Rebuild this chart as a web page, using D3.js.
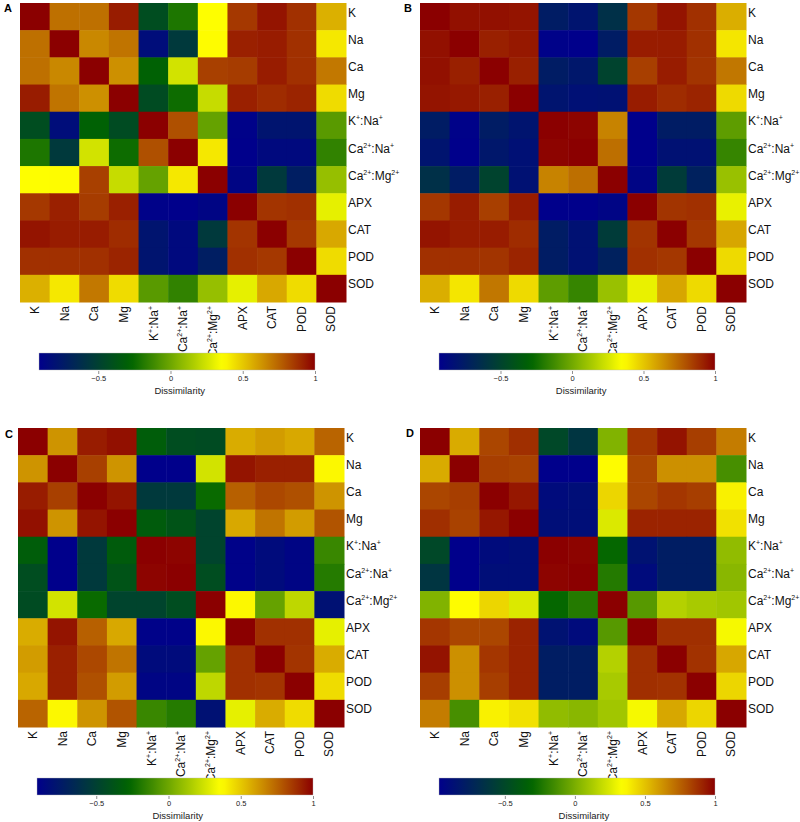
<!DOCTYPE html>
<html>
<head>
<meta charset="utf-8">
<script src="https://cdn.jsdelivr.net/npm/d3@7"></script>
<style>
  html, body { margin: 0; padding: 0; background: #fff; }
  svg { display: block; font-family: "Liberation Sans", Arial, Helvetica, sans-serif; }
</style>
</head>
<body>
<svg id="chart" width="800" height="822"></svg>
<script>
// ---------- data ----------
const categories = ["K", "Na", "Ca", "Mg", "K{+}:Na{+}", "Ca{2+}:Na{+}", "Ca{2+}:Mg{2+}", "APX", "CAT", "POD", "SOD"];
const panelLetters = ["A", "B", "C", "D"];
const colorbarTicks = [-0.5, 0, 0.5, 1];
const colorbarTitle = "Dissimilarity";
const paletteColors = ["#00008B", "#006400", "#FFFF00", "#8B0000"];

const matrixA = [
  [1.00, 0.72, 0.72, 0.93, -0.42, -0.20, 0.36, 0.86, 0.95, 0.88, 0.56],
  [0.72, 1.00, 0.66, 0.71, -0.83, -0.55, 0.37, 0.92, 0.93, 0.88, 0.42],
  [0.72, 0.66, 1.00, 0.64, -0.29, 0.25, 0.84, 0.85, 0.93, 0.88, 0.70],
  [0.93, 0.71, 0.64, 1.00, -0.43, -0.24, 0.22, 0.92, 0.89, 0.91, 0.45],
  [-0.42, -0.83, -0.29, -0.43, 1.00, 0.80, -0.02, -0.90, -0.78, -0.78, -0.05],
  [-0.20, -0.55, 0.25, -0.24, 0.80, 1.00, 0.42, -0.91, -0.85, -0.85, -0.15],
  [0.36, 0.37, 0.84, 0.22, -0.02, 0.42, 1.00, -0.88, -0.55, -0.72, 0.10],
  [0.86, 0.92, 0.85, 0.92, -0.90, -0.91, -0.88, 1.00, 0.87, 0.88, 0.30],
  [0.95, 0.93, 0.93, 0.89, -0.78, -0.85, -0.55, 0.87, 1.00, 0.86, 0.58],
  [0.88, 0.88, 0.88, 0.91, -0.78, -0.85, -0.72, 0.88, 0.86, 1.00, 0.45],
  [0.56, 0.42, 0.70, 0.45, -0.05, -0.15, 0.10, 0.30, 0.58, 0.45, 1.00]
];
const matrixB = [
  [1.00, 0.96, 0.96, 0.95, -0.75, -0.80, -0.62, 0.86, 0.95, 0.88, 0.56],
  [0.96, 1.00, 0.92, 0.94, -0.92, -0.93, -0.75, 0.93, 0.93, 0.88, 0.42],
  [0.96, 0.92, 1.00, 0.92, -0.75, -0.78, -0.50, 0.84, 0.93, 0.87, 0.70],
  [0.95, 0.94, 0.92, 1.00, -0.80, -0.83, -0.82, 0.93, 0.89, 0.91, 0.45],
  [-0.75, -0.92, -0.75, -0.80, 1.00, 0.99, 0.67, -0.93, -0.75, -0.75, -0.05],
  [-0.80, -0.93, -0.78, -0.83, 0.99, 1.00, 0.72, -0.93, -0.82, -0.82, -0.15],
  [-0.62, -0.75, -0.50, -0.82, 0.67, 0.72, 1.00, -0.90, -0.55, -0.72, 0.10],
  [0.86, 0.93, 0.84, 0.93, -0.93, -0.93, -0.90, 1.00, 0.87, 0.88, 0.30],
  [0.95, 0.93, 0.93, 0.89, -0.75, -0.82, -0.55, 0.87, 1.00, 0.86, 0.58],
  [0.88, 0.88, 0.87, 0.91, -0.75, -0.82, -0.72, 0.88, 0.86, 1.00, 0.45],
  [0.56, 0.42, 0.70, 0.45, -0.05, -0.15, 0.10, 0.30, 0.58, 0.45, 1.00]
];
const matrixC = [
  [1.00, 0.63, 0.93, 0.96, -0.32, -0.42, -0.43, 0.57, 0.61, 0.58, 0.75],
  [0.63, 1.00, 0.84, 0.63, -0.91, -0.91, 0.25, 0.95, 0.92, 0.92, 0.38],
  [0.93, 0.84, 1.00, 0.95, -0.55, -0.55, -0.25, 0.76, 0.82, 0.80, 0.63],
  [0.96, 0.63, 0.95, 1.00, -0.33, -0.38, -0.48, 0.58, 0.71, 0.61, 0.79],
  [-0.32, -0.91, -0.55, -0.33, 1.00, 0.99, -0.48, -0.90, -0.84, -0.88, -0.13],
  [-0.42, -0.91, -0.55, -0.38, 0.99, 1.00, -0.42, -0.90, -0.84, -0.88, -0.18],
  [-0.43, 0.25, -0.25, -0.48, -0.48, -0.42, 1.00, 0.38, -0.02, 0.20, -0.80],
  [0.57, 0.95, 0.76, 0.58, -0.90, -0.90, 0.38, 1.00, 0.88, 0.88, 0.30],
  [0.61, 0.92, 0.82, 0.71, -0.84, -0.84, -0.02, 0.88, 1.00, 0.87, 0.57],
  [0.58, 0.92, 0.80, 0.61, -0.88, -0.88, 0.20, 0.88, 0.87, 1.00, 0.45],
  [0.75, 0.38, 0.63, 0.79, -0.13, -0.18, -0.80, 0.30, 0.57, 0.45, 1.00]
];
const matrixD = [
  [1.00, 0.56, 0.82, 0.88, -0.50, -0.62, 0.02, 0.86, 0.95, 0.84, 0.68],
  [0.56, 1.00, 0.84, 0.83, -0.97, -0.97, 0.35, 0.82, 0.63, 0.63, -0.13],
  [0.82, 0.84, 1.00, 0.94, -0.90, -0.88, 0.45, 0.82, 0.86, 0.84, 0.38],
  [0.88, 0.83, 0.94, 1.00, -0.88, -0.88, 0.25, 0.91, 0.91, 0.91, 0.42],
  [-0.50, -0.97, -0.90, -0.88, 1.00, 0.99, -0.30, -0.85, -0.78, -0.78, 0.06],
  [-0.62, -0.97, -0.88, -0.88, 0.99, 1.00, -0.22, -0.90, -0.78, -0.78, 0.04],
  [0.02, 0.35, 0.45, 0.25, -0.30, -0.22, 1.00, -0.09, 0.15, 0.12, 0.10],
  [0.86, 0.82, 0.82, 0.91, -0.85, -0.90, -0.09, 1.00, 0.88, 0.88, 0.32],
  [0.95, 0.63, 0.86, 0.91, -0.78, -0.78, 0.15, 0.88, 1.00, 0.87, 0.57],
  [0.84, 0.63, 0.84, 0.91, -0.78, -0.78, 0.12, 0.88, 0.87, 1.00, 0.45],
  [0.68, -0.13, 0.38, 0.42, 0.06, 0.04, 0.10, 0.32, 0.57, 0.45, 1.00]
];
const matrices = [matrixA, matrixB, matrixC, matrixD];

// ---------- layout (drawing only) ----------
const layout = [
  { hx: 20,  hy: 3,   cbx: 39,  cby: 353, lx: 4,   ly: 12 },
  { hx: 420, hy: 3,   cbx: 439, cby: 353, lx: 404, ly: 12 },
  { hx: 18,  hy: 428, cbx: 37,  cby: 778, lx: 5,   ly: 438 },
  { hx: 420, hy: 428, cbx: 439, cby: 778, lx: 406, ly: 437 }
];
const heatW = 326, heatH = 299, cbW = 276, cbH = 17;
const labelFont = 12;

const svg = d3.select("#chart");
const defs = svg.append("defs");

// Label writer with superscript parts written as {..}
function writeLabel(sel, s) {
  const parts = s.split(/(\{[^}]*\})/).filter(p => p.length);
  let raised = false;
  parts.forEach(p => {
    if (p.startsWith("{")) {
      sel.append("tspan").attr("font-size", 7).attr("dy", raised ? 0 : -5).text(p.slice(1, -1));
      raised = true;
    } else {
      sel.append("tspan").attr("dy", raised ? 5 : 0).text(p);
      raised = false;
    }
  });
}

matrices.forEach((mat, pi) => {
  const L = layout[pi];
  const vmin = d3.min(mat.flat());
  const vmax = 1;
  const stops = d3.range(paletteColors.length).map(i => vmin + (vmax - vmin) * i / (paletteColors.length - 1));
  const color = d3.scaleLinear().domain(stops).range(paletteColors).interpolate(d3.interpolateRgb).clamp(true);

  const x = d3.scaleBand().domain(categories).range([L.hx, L.hx + heatW]);
  const y = d3.scaleBand().domain(categories).range([L.hy, L.hy + heatH]);

  const g = svg.append("g");

  const cells = [];
  mat.forEach((row, ri) => row.forEach((v, ci) => cells.push({ r: categories[ri], c: categories[ci], v })));
  g.selectAll("rect.cell").data(cells).join("rect")
    .attr("class", "cell")
    .attr("x", d => x(d.c))
    .attr("y", d => y(d.r))
    .attr("width", x.bandwidth() + 0.5)
    .attr("height", y.bandwidth() + 0.5)
    .attr("fill", d => color(d.v));

  // right labels
  categories.forEach(cat => {
    const t = g.append("text")
      .attr("x", L.hx + heatW + 2)
      .attr("y", y(cat) + y.bandwidth() / 2)
      .attr("dy", "0.36em")
      .attr("font-size", labelFont)
      .attr("fill", "#111");
    writeLabel(t, cat);
  });
  // bottom labels (rotated)
  categories.forEach(cat => {
    const cx = x(cat) + x.bandwidth() / 2;
    const cy = L.hy + heatH + 4;
    const t = g.append("text")
      .attr("transform", `translate(${cx + 4.3},${cy}) rotate(-90)`)
      .attr("text-anchor", "end")
      .attr("font-size", labelFont)
      .attr("fill", "#111");
    writeLabel(t, cat);
  });

  // panel letter
  svg.append("text")
    .attr("x", L.lx).attr("y", L.ly)
    .attr("font-size", 11).attr("font-weight", "bold")
    .text(panelLetters[pi]);

  // colorbar
  const gradId = "grad" + pi;
  const grad = defs.append("linearGradient").attr("id", gradId)
    .attr("x1", "0%").attr("x2", "100%").attr("y1", "0%").attr("y2", "0%");
  d3.range(0, 1.0001, 0.02).forEach(t => {
    grad.append("stop").attr("offset", (t * 100) + "%").attr("stop-color", color(vmin + t * (vmax - vmin)));
  });
  const cb = d3.scaleLinear().domain([vmin, vmax]).range([L.cbx, L.cbx + cbW]);
  svg.append("rect")
    .attr("x", L.cbx).attr("y", L.cby)
    .attr("width", cbW).attr("height", cbH)
    .attr("fill", `url(#${gradId})`)
    .attr("stroke", "#bbb").attr("stroke-width", 0.4);
  const axis = d3.axisBottom(cb).tickValues(colorbarTicks).tickSize(3).tickPadding(2)
    .tickFormat(d => d === 0 ? "0" : d === 1 ? "1" : d3.format(".1f")(d).replace("-", "\u2212"));
  const ax = svg.append("g").attr("transform", `translate(0,${L.cby + cbH + 1})`).call(axis);
  ax.select(".domain").remove();
  ax.selectAll(".tick line").attr("stroke", "#444").attr("stroke-width", 0.6);
  ax.selectAll(".tick text").attr("font-size", 7.5).attr("fill", "#222")
    .attr("font-family", "'Liberation Sans', Arial, sans-serif");
  svg.append("text")
    .attr("x", cb(0.05) + 2)
    .attr("y", L.cby + cbH + 24)
    .attr("text-anchor", "middle")
    .attr("font-size", 9.5).attr("fill", "#222")
    .text(colorbarTitle);
});
</script>
</body>
</html>
